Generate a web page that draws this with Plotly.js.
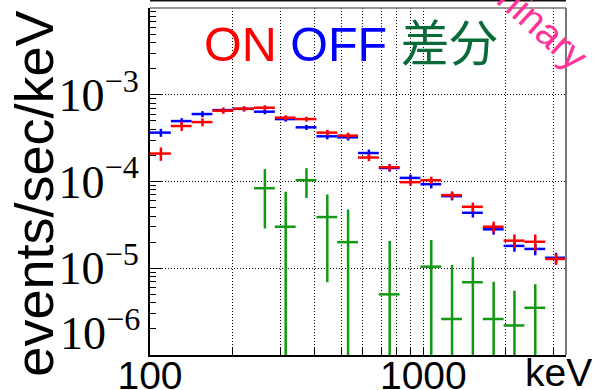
<!DOCTYPE html>
<html><head><meta charset="utf-8">
<script src="https://cdn.plot.ly/plotly-3.0.1.min.js"></script>
<style>html,body{margin:0;padding:0;background:#fff}#chart{width:595px;height:390px}</style>
</head><body><div id="chart"></div>
<script>
// Energy bin edges (keV), log-spaced
const binEdges = [100, 119.2, 142.0, 169.2, 201.6, 240.2, 286.2, 341.0, 406.3, 484.1, 576.8,
                  687.2, 818.8, 975.6, 1162, 1385, 1650, 1966, 2342, 2791, 3325];
// ON source rate (events/sec/keV) and errors
const onRate = [2.10e-4, 4.36e-4, 4.84e-4, 6.55e-4, 6.91e-4, 7.09e-4, 5.44e-4, 5.24e-4, 3.66e-4, 3.38e-4,
                1.89e-4, 1.46e-4, 9.82e-5, 1.035e-4, 6.96e-5, 5.11e-5, 3.01e-5, 2.08e-5, 2.02e-5, 1.28e-5];
const onErr  = [3.7e-5, 5.4e-5, 5.1e-5, 5.2e-5, 4.6e-5, 4.7e-5, 3.6e-5, 3.5e-5, 2.9e-5, 2.7e-5,
                1.75e-5, 1.35e-5, 9.1e-6, 1.0e-5, 7.4e-6, 6.1e-6, 4.4e-6, 3.7e-6, 4.3e-6, 1.9e-6];
// OFF (background) rate and errors
const offRate = [3.66e-4, 4.97e-4, 5.99e-4, 6.65e-4, 6.87e-4, 6.38e-4, 5.24e-4, 4.21e-4, 3.32e-4, 3.23e-4,
                 2.13e-4, 1.43e-4, 1.10e-4, 9.31e-5, 6.78e-5, 4.36e-5, 2.81e-5, 1.81e-5, 1.67e-5, 1.32e-5];
const offErr  = [3.9e-5, 4.0e-5, 4.8e-5, 4.4e-5, 4.5e-5, 4.2e-5, 3.5e-5, 2.8e-5, 2.6e-5, 2.6e-5,
                 2.0e-5, 1.33e-5, 1.02e-5, 9.9e-6, 7.2e-6, 5.2e-6, 3.7e-6, 2.6e-6, 2.6e-6, 1.9e-6];
// Difference (ON - OFF); null where not drawn (non-positive)
const diffRate = [null, null, null, null, null, 8.37e-5, 3.01e-5, 1.035e-4, 3.89e-5, 2.0e-5,
                  null, 5.0e-6, null, 1.043e-5, 2.6e-6, 6.9e-6, 2.6e-6, 2.19e-6, 3.5e-6, null];
const diffErr  = [null, null, null, null, null, 5.5e-5, 4.6e-5, 3.9e-5, 3.2e-5, 2.77e-5,
                  null, 1.56e-5, null, 1.07e-5, 8.3e-6, 6.5e-6, 4.4e-6, 3.3e-6, 3.05e-6, null];

// Axis ticks
const xTickVals = [100, 200, 300, 400, 500, 600, 700, 800, 900, 1000, 2000, 3000];
const xTickText = ['100', '', '', '', '', '', '', '', '', '1000', '', ''];
const yTickVals = [1e-5, 1e-4, 1e-3];
const yTickText = ['10<sup>\u22125</sup>', '10<sup>\u22124</sup>', '10<sup>\u22123</sup>'];
const yBottomLabel = '10<sup>\u22126</sup>';
const yMinorVals = [];
[1e-6, 1e-5, 1e-4, 1e-3].forEach(d => { for (let k = 2; k <= 9; k++) yMinorVals.push(d * k); });

const lo = binEdges.slice(0, -1), hi = binEdges.slice(1);
const xc = lo.map((l, i) => (l + hi[i]) / 2);
const xPlus = xc.map((c, i) => hi[i] - c);
const xMinus = xc.map((c, i) => c - lo[i]);

function series(y, e, color, yaxis) {
  return {
    type: 'scatter', mode: 'markers', x: xc, y: y, yaxis: yaxis || 'y',
    marker: {size: 1, color: 'rgba(0,0,0,0)'},
    error_x: {type: 'data', symmetric: false, array: xPlus, arrayminus: xMinus, color: color, thickness: 2.5, width: 0},
    error_y: {type: 'data', array: e, color: color, thickness: 2.5, width: 0},
    hoverinfo: 'skip', showlegend: false
  };
}

const traces = [
  series(offRate, offErr, '#0000ff'),
  series(onRate, onErr, '#ff0000'),
  series(diffRate, diffErr, '#119911', 'y2')
];

const serif = 'Liberation Serif, DejaVu Serif, serif';
const sans = 'Liberation Sans, Arial, sans-serif';
const L = 150, R = 29, T = 8, B = 35, H = 390 - T - B;

const layout = {
  width: 595, height: 390,
  margin: {l: L, r: R, t: T, b: B, pad: 0},
  paper_bgcolor: '#fff', plot_bgcolor: '#fff',
  showlegend: false,
  xaxis: {
    type: 'log', range: [Math.log10(binEdges[0]), Math.log10(binEdges[binEdges.length - 1])],
    tickmode: 'array', tickvals: xTickVals, ticktext: xTickText,
    ticks: 'inside', ticklen: 7, tickwidth: 1, tickcolor: '#000',
    showgrid: true, gridcolor: '#000', gridwidth: 1, griddash: '1px,2px',
    showline: true, linecolor: '#000', linewidth: 2, mirror: false,
    tickfont: {family: sans, size: 39, color: '#000'},
    ticklabelstandoff: -15,
    automargin: false, zeroline: false
  },
  yaxis: {
    type: 'log', range: [-6, -2],
    tickmode: 'array', tickvals: yTickVals, ticktext: yTickText,
    ticks: 'inside', ticklen: 12, tickwidth: 1, tickcolor: '#000',
    showgrid: true, gridcolor: '#000', gridwidth: 1, griddash: '1px,2px',
    showline: true, linecolor: '#000', linewidth: 2, mirror: false,
    tickfont: {family: serif, size: 46, color: '#000'},
    automargin: false, zeroline: false
  },
  yaxis2: {
    type: 'log', range: [-6, -2], overlaying: 'y', side: 'left',
    tickmode: 'array', tickvals: yMinorVals, showticklabels: false,
    ticks: 'inside', ticklen: 6, tickwidth: 1, tickcolor: '#000',
    showgrid: false, showline: false, zeroline: false, automargin: false
  },
  shapes: [
    {type: 'line', xref: 'paper', yref: 'paper', x0: 0, x1: 1, y0: 1, y1: 1, line: {color: '#777', width: 1.5}},
    {type: 'line', xref: 'paper', yref: 'paper', x0: 1, x1: 1, y0: 0, y1: 1, line: {color: '#777', width: 2}},
    {type: 'line', xref: 'paper', yref: 'paper', x0: 0, x1: 1, y0: 1 + 7.5 / H, y1: 1 + 7.5 / H, line: {color: '#111', width: 2}}
  ],
  annotations: [
    {xref: 'paper', yref: 'paper', x: 0.483, y: 0.896, xanchor: 'center', yanchor: 'middle', showarrow: false,
     text: '<span style="color:#ff0000">ON</span> <span style="color:#0000ff">OFF</span> <span style="color:#0a6b3a">差分</span>',
     font: {family: 'Liberation Sans, Noto Sans CJK JP, sans-serif', size: 48.5}},
    {xref: 'paper', yref: 'paper', x: 0.866, y: 1.031, xanchor: 'center', yanchor: 'middle', showarrow: false,
     text: 'Preliminary', textangle: 42, font: {family: sans, size: 39, color: '#ff3399'}},
    {xref: 'paper', yref: 'paper', x: (34 - L) / (595 - L - R), y: 0.465, xanchor: 'center', yanchor: 'middle', showarrow: false,
     text: 'events/sec/keV', textangle: -90, font: {family: sans, size: 54, color: '#000'}},
    {xref: 'paper', yref: 'paper', x: 0.983, y: -0.0504, xanchor: 'center', yanchor: 'middle', showarrow: false,
     text: 'keV', font: {family: sans, size: 39, color: '#000'}},
    {xref: 'paper', yref: 'paper', x: 0, y: 0, xanchor: 'right', yanchor: 'bottom', xshift: -8, yshift: -6, showarrow: false,
     text: yBottomLabel, font: {family: serif, size: 46, color: '#000'}}
  ]
};

Plotly.newPlot('chart', traces, layout, {staticPlot: true, displayModeBar: false});
</script></body></html>
